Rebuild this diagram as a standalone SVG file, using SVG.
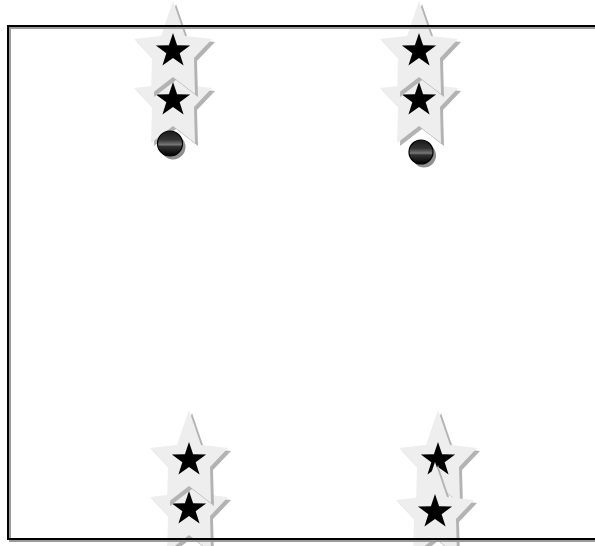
<svg xmlns="http://www.w3.org/2000/svg" xmlns:xlink="http://www.w3.org/1999/xlink" width="595" height="546" viewBox="0 0 595 546">
  <style>
    .gshadow { fill: #b3b3b3; }
    .gstar { fill: #eeeeee; }
    .bstar { fill: #000000; }
    .frame { fill: none; stroke: #000000; stroke-width: 2; }
    .frameshadow { fill: none; stroke: #9a9a9a; stroke-width: 2; }
    .cshadow { fill: #8f8f8f; }
  </style>
  <defs>
    <path id="big" d="M0,-50 L12,-15 L39,-12 L21,7 L22,43 L0,26 L-22,43 L-21,7 L-39,-12 L-12,-15 Z"/>
    <path id="small" d="M0,-18 L4.11,-5.66 L17.12,-5.56 L6.66,2.16 L10.58,14.56 L0,7 L-10.58,14.56 L-6.66,2.16 L-17.12,-5.56 L-4.11,-5.66 Z"/>
    <g id="star">
      <use xlink:href="#big" class="gshadow" transform="translate(3,3)"/>
      <use xlink:href="#big" class="gstar"/>
      <use xlink:href="#small" class="bstar"/>
    </g>
    <linearGradient id="ball" x1="0" y1="0" x2="0" y2="1">
      <stop offset="0" stop-color="#1a1a1a"/>
      <stop offset="0.35" stop-color="#333333"/>
      <stop offset="0.55" stop-color="#777777"/>
      <stop offset="0.62" stop-color="#333333"/>
      <stop offset="1" stop-color="#000000"/>
    </linearGradient>
  </defs>

  <g id="n2"><use xlink:href="#star" transform="translate(173,100)"/></g>
  <g id="n1"><use xlink:href="#star" transform="translate(173,51)"/></g>
  <g id="n3">
    <circle class="cshadow" cx="173" cy="147" r="12.5"/>
    <circle cx="170" cy="143.5" r="12.5" fill="url(#ball)" stroke="#000" stroke-width="1.2"/>
  </g>

  <g id="n5"><use xlink:href="#star" transform="translate(419,100)"/></g>
  <g id="n4"><use xlink:href="#star" transform="translate(419,51)"/></g>
  <g id="n6">
    <circle class="cshadow" cx="424" cy="155.5" r="12"/>
    <circle cx="421" cy="152" r="12" fill="url(#ball)" stroke="#000" stroke-width="1.2"/>
  </g>

  <g id="n8"><use xlink:href="#star" transform="translate(189,509)"/></g>
  <g id="n7"><use xlink:href="#star" transform="translate(189,460)"/></g>

  <g id="n9"><use xlink:href="#star" transform="translate(438,460)"/></g>
  <g id="n10"><use xlink:href="#star" transform="translate(435,512)"/></g>

  <g id="connectors"></g>

  <g id="frame">
    <rect class="frameshadow" x="10" y="28" width="620" height="513"/>
    <rect class="frame" x="8" y="26" width="620" height="513"/>
  </g>
</svg>
